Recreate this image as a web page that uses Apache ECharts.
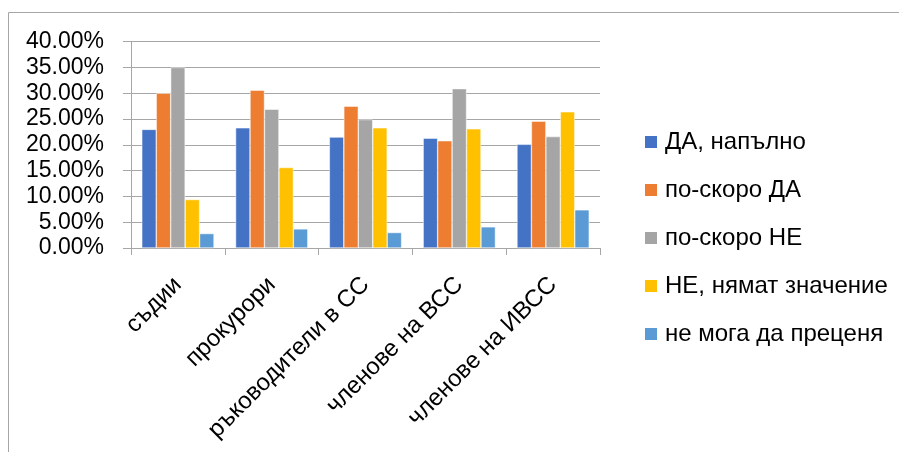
<!DOCTYPE html>
<html><head><meta charset="utf-8">
<script src="https://cdn.jsdelivr.net/npm/echarts@6/dist/echarts.min.js"></script>
<style>html,body{margin:0;padding:0;background:#fff}#c{width:899px;height:452px}</style>
</head><body><div id="c"></div>
<script>
const categories = ['съдии','прокурори','ръководители в СС','членове на ВСС','членове на ИВСС'];
const seriesNames = ['ДА, напълно','по-скоро ДА','по-скоро НЕ','НЕ, нямат значение','не мога да преценя'];
const daNapalno = [23.0, 23.3, 21.5, 21.3, 20.1];
const poSkoroDa = [30.0, 30.6, 27.5, 20.8, 24.6];
const poSkoroNe = [35.0, 26.9, 24.9, 30.9, 21.6];
const neNqmat = [9.4, 15.6, 23.3, 23.1, 26.4];
const neMoga = [2.8, 3.7, 3.0, 4.1, 7.4];
const colors = ['#4472C4','#ED7D31','#A5A5A5','#FFC000','#5B9BD5'];
const values = [daNapalno, poSkoroDa, poSkoroNe, neNqmat, neMoga];
const FONT = 'Liberation Sans';
const chart = echarts.init(document.getElementById('c'));
chart.setOption({
  animation:false,
  textStyle:{fontFamily:FONT},
  graphic:[{type:'rect',shape:{x:8.5,y:12.5,width:1200,height:1200},style:{fill:'none',stroke:'#a6a6a6',lineWidth:1},silent:true}],
  grid:{left:131,right:299,top:41.7,bottom:204},
  legend:{orient:'vertical',left:638,top:125,itemWidth:14,itemHeight:14,itemGap:24,
    icon:'rect',textStyle:{fontSize:24,color:'#000',fontFamily:FONT,padding:[0,0,0,2],lineHeight:24},
    data:seriesNames},
  xAxis:{type:'category',data:categories,
    axisLine:{lineStyle:{color:'#a6a6a6',width:1}},
    axisTick:{show:true,length:7,lineStyle:{color:'#a6a6a6'}},
    axisLabel:{rotate:45,fontSize:24,color:'#000',fontFamily:FONT,margin:33,interval:0}},
  yAxis:{type:'value',min:0,max:40,interval:5,
    axisLine:{show:true,lineStyle:{color:'#a6a6a6'}},
    axisTick:{show:true,length:8,lineStyle:{color:'#a6a6a6'}},
    splitLine:{lineStyle:{color:'#a6a6a6',width:1}},
    axisLabel:{fontSize:23,color:'#000',fontFamily:FONT,margin:27,formatter:v=>v.toFixed(2)+'%'}},
  series:seriesNames.map((n,i)=>({name:n,type:'bar',data:values[i],barGap:'0%',barCategoryGap:'23%',
    itemStyle:{color:colors[i],borderColor:'#fff',borderWidth:0.5}}))
});
</script></body></html>
